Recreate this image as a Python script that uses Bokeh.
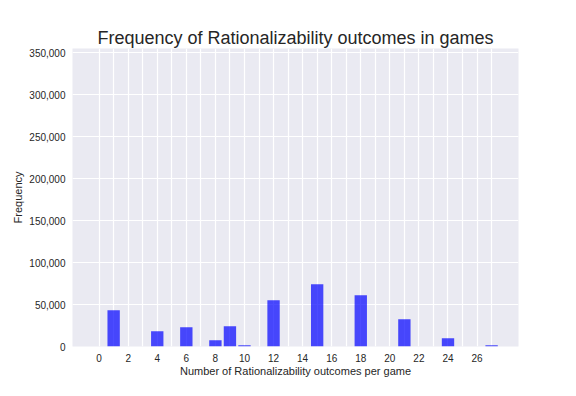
from bokeh.plotting import figure
from bokeh.models import FixedTicker, NumeralTickFormatter, Range1d, ColumnDataSource
from bokeh.embed import file_html
from bokeh.resources import INLINE

# Data
outcomes = [1, 4, 6, 8, 9, 10, 12, 15, 18, 21, 24, 27]
frequency = [43200, 18200, 23000, 7500, 24200, 1500, 55100, 74200, 61100, 32500, 9900, 1500]
x_tick_labels = list(range(0, 27, 2))
y_ticks = list(range(0, 350001, 50000))
grid_positions = list(range(0, 28))

FONT = "Liberation Sans"
TXT = "#262626"

p = figure(width=568, height=388, output_backend="svg", toolbar_location=None,
           x_range=Range1d(-1.83, 28.85), y_range=Range1d(0, 354800),
           title="Frequency of Rationalizability outcomes in games")
p.min_border_left = 72
p.min_border_right = 50
p.min_border_top = 48
p.min_border_bottom = 42
p.background_fill_color = "#EAEAF2"
p.border_fill_color = "white"
p.outline_line_color = None

p.title.align = "center"
p.title.text_font = FONT
p.title.text_font_size = "18px"
p.title.text_font_style = "normal"
p.title.text_color = TXT
p.title.offset = 0
p.title.standoff = 2

src = ColumnDataSource(dict(x=outcomes, top=frequency))
p.vbar(x="x", top="top", bottom=0, width=0.85, source=src,
       fill_color="blue", fill_alpha=0.7, line_color=None)

p.xaxis.ticker = FixedTicker(ticks=x_tick_labels)
p.yaxis.ticker = FixedTicker(ticks=y_ticks)
p.xgrid.ticker = FixedTicker(ticks=grid_positions)
p.ygrid.ticker = FixedTicker(ticks=y_ticks)
p.yaxis.formatter = NumeralTickFormatter(format="0,0")
p.xgrid.grid_line_color = "white"
p.ygrid.grid_line_color = "white"
p.xgrid.grid_line_width = 1.2
p.ygrid.grid_line_width = 1.2

p.xaxis.axis_label = "Number of Rationalizability outcomes per game"
p.yaxis.axis_label = "Frequency"
for ax in (p.xaxis[0], p.yaxis[0]):
    ax.axis_line_color = None
    ax.major_tick_line_color = None
    ax.minor_tick_line_color = None
    ax.major_tick_out = 0
    ax.major_tick_in = 0
    ax.major_label_text_font = FONT
    ax.major_label_text_font_size = "10px"
    ax.major_label_text_color = TXT
    ax.axis_label_text_font = FONT
    ax.axis_label_text_font_size = "11px"
    ax.axis_label_text_font_style = "normal"
    ax.axis_label_text_color = TXT
    ax.major_label_standoff = 7
p.xaxis[0].axis_label_standoff = 0
p.yaxis[0].axis_label_standoff = 2

open("out.html", "w").write(file_html(p, INLINE))
